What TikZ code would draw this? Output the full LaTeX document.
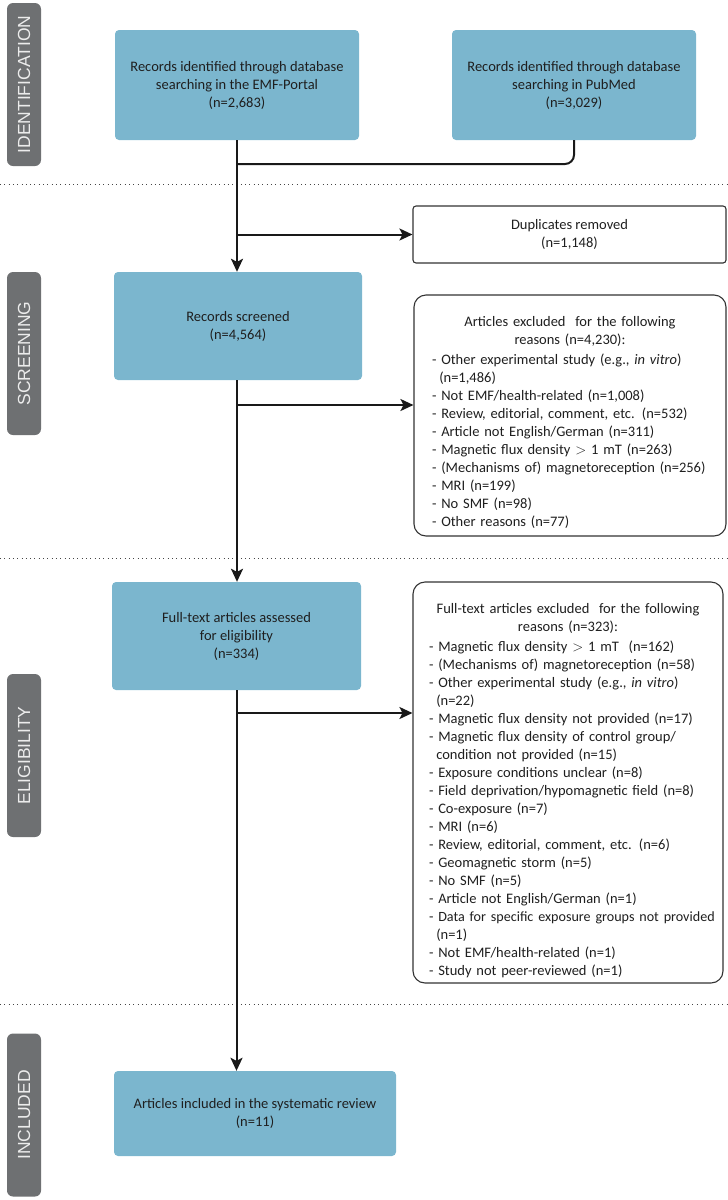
\documentclass[tikz,border=0pt]{standalone}
\usepackage{fontspec}
\setmainfont{Carlito}
\newfontfamily\stagefont{Liberation Sans}
\usepackage{xcolor}
\usepackage{tikz}
\usetikzlibrary{arrows.meta, positioning, calc}

\definecolor{boxblue}{RGB}{123,182,206}
\definecolor{stagegray}{RGB}{110,112,114}
\definecolor{stagetext}{RGB}{236,236,236}
\definecolor{dotgray}{RGB}{70,70,70}

% list line with hanging indent
\newcommand{\exitem}[1]{\par\hangindent=0.5em\hangafter=1\noindent- #1}
% list layout after the heading
\newcommand{\exlist}[1]{\par\vspace{2pt}\raggedright\leftskip=#1\rightskip=-18pt plus 2em
  \hyphenpenalty=10000\exhyphenpenalty=10000}

\tikzset{
  stage/.style={fill=stagegray, rounded corners=6pt, rotate=90,
    minimum width=163pt, minimum height=34pt, inner sep=0pt,
    text=stagetext, font=\stagefont\fontsize{17.5}{20}\selectfont},
  recbox/.style={fill=boxblue, rounded corners=4pt, align=center,
    text=black!88, font=\fontsize{14.5}{18}\selectfont},
  exclbox/.style={draw=black!80, line width=1.1pt, fill=white,
    rounded corners=12pt, inner xsep=8pt, inner ysep=0pt, text width=294pt,
    text=black!88, font=\fontsize{14.5}{18}\selectfont},
  flow/.style={line width=2pt, black!90},
  arrow/.style={flow, -{Stealth[length=13pt, width=12pt, inset=3pt]}},
  sep/.style={dotgray, line width=1pt, dash pattern=on 1pt off 3.3pt}
}

\begin{document}
\begin{tikzpicture}[x=1pt, y=-1pt]
\useasboundingbox (0,0) rectangle (728,1200);

% Stage tabs
\node[stage] (identification) at (24,84.5) {IDENTIFICATION};
\node[stage] (screening) at (24,353.5) {SCREENING};
\node[stage] (eligibility) at (24,755.5) {ELIGIBILITY};
\node[stage] (included) at (24,1115) {INCLUDED};

% Separators
\draw[sep] (0,184) -- (728,184);
\draw[sep] (0,558) -- (728,558);
\draw[sep] (0,1004) -- (728,1004);

% Boxes
\node[recbox, minimum width=244pt, minimum height=110pt] (emf) at (237,85)
  {Records identified through database\\searching in the EMF-Portal\\(n=2,683)};
\node[recbox, minimum width=244pt, minimum height=110pt] (pubmed) at (574,85)
  {Records identified through database\\searching in PubMed\\(n=3,029)};
\node[draw=black!80, line width=1.1pt, rounded corners=3pt, align=center,
  minimum width=313pt, minimum height=57pt, text=black!88,
  font=\fontsize{14.5}{18}\selectfont] (dup) at (569.5,234.5)
  {Duplicates removed\\(n=1,148)};
\node[recbox, minimum width=248pt, minimum height=108pt] (screened) at (238,326)
  {Records screened\\(n=4,564)};
\node[exclbox, minimum width=312pt, minimum height=241pt] (scrout) at (570,415.5) {%
  {\centering\rule{0pt}{24pt}Articles excluded\ \ for the following\par reasons (n=4,230):\par}%
  \exlist{9pt}
  \exitem{Other experimental study (e.g., \textit{in vitro})\newline(n=1,486)}
  \exitem{Not EMF/health-related (n=1,008)}
  \exitem{Review, editorial, comment, etc. (n=532)}
  \exitem{Article not English/German (n=311)}
  \exitem{Magnetic flux density $>$ 1 mT (n=263)}
  \exitem{(Mechanisms of) magnetoreception (n=256)}
  \exitem{MRI (n=199)}
  \exitem{No SMF (n=98)}
  \exitem{Other reasons (n=77)}\par};
\node[recbox, minimum width=249pt, minimum height=108pt] (fulltext) at (236.5,636)
  {Full-text articles assessed\\for eligibility\\(n=334)};
\node[exclbox, minimum width=310pt, minimum height=401pt] (eligout) at (568,782.5) {%
  {\centering\rule{0pt}{26pt}Full-text articles excluded\ \ for the following\par reasons (n=323):\par}%
  \exlist{8pt}
  \exitem{Magnetic flux density $>$ 1 mT\ \ (n=162)}
  \exitem{(Mechanisms of) magnetoreception (n=58)}
  \exitem{Other experimental study (e.g., \textit{in vitro})\newline(n=22)}
  \exitem{Magnetic flux density not provided (n=17)}
  \exitem{Magnetic flux density of control group/\newline condition not provided (n=15)}
  \exitem{Exposure conditions unclear (n=8)}
  \exitem{Field deprivation/hypomagnetic field (n=8)}
  \exitem{Co-exposure (n=7)}
  \exitem{MRI (n=6)}
  \exitem{Review, editorial, comment, etc. (n=6)}
  \exitem{Geomagnetic storm (n=5)}
  \exitem{No SMF (n=5)}
  \exitem{Article not English/German (n=1)}
  \exitem{{\fontsize{14.1}{18}\selectfont Data for specific exposure groups not provided}\newline(n=1)}
  \exitem{Not EMF/health-related (n=1)}
  \exitem{Study not peer-reviewed (n=1)}\par};
\node[recbox, minimum width=282pt, minimum height=85pt] (final) at (255,1113.5)
  {Articles included in the systematic review\\(n=11)};

% Connectors
\coordinate (join) at (emf.south |- 0,164);
\draw[flow, rounded corners=9pt] (pubmed.south) |- (join);
\draw[arrow] (emf.south) -- (emf.south |- screened.north);
\draw[arrow] (emf.south |- dup.west) -- (dup.west);
\coordinate (split1) at (emf.south |- 0,405);
\draw[arrow] (split1) -- (split1 -| scrout.west);
\draw[arrow] (screened.south -| emf.south) -- (emf.south |- fulltext.north);
\coordinate (split2) at (fulltext.south |- 0,713);
\draw[arrow] (split2) -- (split2 -| eligout.west);
\draw[arrow] (fulltext.south) -- (fulltext.south |- final.north);

\end{tikzpicture}
\end{document}
